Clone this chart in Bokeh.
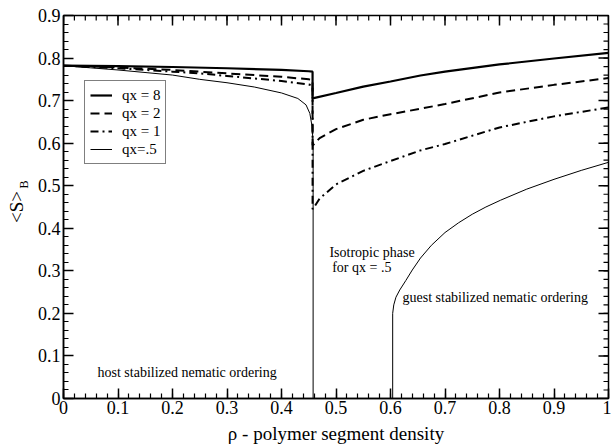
import math
from bokeh.plotting import figure
from bokeh.models import LinearAxis, Legend, LegendItem, Label, FixedTicker
from bokeh.embed import file_html
from bokeh.resources import INLINE

# ---- data ----
x_qx8 = [0.0, 0.1, 0.2, 0.3, 0.4, 0.45, 0.457, 0.457, 0.459, 0.5, 0.55, 0.6, 0.655, 0.7, 0.8, 0.9, 1.0]
y_qx8 = [0.782, 0.781, 0.779, 0.776, 0.772, 0.769, 0.768, 0.705, 0.706, 0.718, 0.733, 0.745, 0.759, 0.768, 0.785, 0.799, 0.812]

x_qx2 = [0.0, 0.1, 0.2, 0.25, 0.3, 0.4, 0.45, 0.457, 0.457, 0.459, 0.47, 0.5, 0.55, 0.6, 0.655, 0.7, 0.8, 0.9, 1.0]
y_qx2 = [0.782, 0.778, 0.772, 0.768, 0.764, 0.756, 0.750, 0.748, 0.595, 0.597, 0.612, 0.633, 0.655, 0.668, 0.681, 0.692, 0.719, 0.737, 0.753]

x_qx1 = [0.0, 0.1, 0.2, 0.25, 0.3, 0.4, 0.45, 0.457, 0.457, 0.459, 0.47, 0.5, 0.55, 0.6, 0.655, 0.7, 0.8, 0.9, 1.0]
y_qx1 = [0.782, 0.776, 0.768, 0.764, 0.758, 0.746, 0.738, 0.735, 0.445, 0.448, 0.470, 0.503, 0.535, 0.558, 0.583, 0.598, 0.637, 0.663, 0.684]

x_qx05 = [0.0, 0.1, 0.2, 0.25, 0.3, 0.35, 0.4, 0.43, 0.445, 0.452, 0.456, 0.458, 0.458, 0.604, 0.604,
          0.606, 0.61, 0.617, 0.628, 0.64, 0.655, 0.675, 0.7, 0.725, 0.75, 0.775, 0.802, 0.85, 0.9, 0.95, 1.0]
y_qx05 = [0.782, 0.772, 0.760, 0.750, 0.742, 0.732, 0.718, 0.705, 0.690, 0.670, 0.640, 0.600, 0.0, 0.0, 0.200,
          0.220, 0.238, 0.255, 0.277, 0.302, 0.330, 0.360, 0.390, 0.413, 0.433, 0.450, 0.466, 0.492, 0.515, 0.536, 0.555]

series_labels = ["qx = 8", "qx = 2", "qx = 1", "qx=.5"]

x_ticks = [0, 0.1, 0.2, 0.3, 0.4, 0.5, 0.6, 0.7, 0.8, 0.9, 1]
x_tick_labels = ["0", "0.1", "0.2", "0.3", "0.4", "0.5", "0.6", "0.7", "0.8", "0.9", "1"]
y_ticks = [0, 0.1, 0.2, 0.3, 0.4, 0.5, 0.6, 0.7, 0.8, 0.9]
y_tick_labels = ["0", "0.1", "0.2", "0.3", "0.4", "0.5", "0.6", "0.7", "0.8", "0.9"]
x_minor = [i * 0.02 for i in range(51)]
y_minor = [i * 0.02 for i in range(46)]

X_MIN, X_MAX, Y_MIN, Y_MAX = 0, 1, 0, 0.9
FONT = "Liberation Serif"

p = figure(width=611, height=448, x_range=(X_MIN, X_MAX), y_range=(Y_MIN, Y_MAX),
           output_backend="svg", toolbar_location=None,
           min_border_left=63, min_border_right=3, min_border_top=15, min_border_bottom=50)
p.xgrid.visible = False
p.ygrid.visible = False
p.outline_line_color = "black"
p.outline_line_width = 1.5
p.background_fill_color = "white"
p.border_fill_color = "white"


def style_axis(ax, ticks, minor, labels):
    ax.ticker = FixedTicker(ticks=ticks, minor_ticks=minor)
    ax.major_label_overrides = {t: l for t, l in zip(ticks, labels)}
    ax.axis_line_color = "black"
    ax.axis_line_width = 1.5
    ax.major_tick_in = 10
    ax.major_tick_out = 0
    ax.minor_tick_in = 5
    ax.minor_tick_out = 0
    ax.major_tick_line_width = 1.5
    ax.minor_tick_line_width = 1.2
    ax.major_tick_line_color = "black"
    ax.minor_tick_line_color = "black"
    ax.major_label_text_font = FONT
    ax.major_label_text_color = "black"
    ax.major_label_text_font_size = "18px"
    ax.axis_label_text_color = "black"
    ax.axis_label_text_font = FONT
    ax.axis_label_text_font_style = "normal"
    ax.axis_label_text_font_size = "19px"


xa = p.xaxis[0]
ya = p.yaxis[0]
style_axis(xa, x_ticks, x_minor, x_tick_labels)
style_axis(ya, y_ticks, y_minor, y_tick_labels)
xa.major_label_standoff = 2
ya.major_label_standoff = 3
xa.axis_label = "ρ - polymer segment density"
xa.axis_label_standoff = 6
ya.axis_label = "<S>"
ya.axis_label_standoff = 8

# subscript "B" of <S>_B: a label-only axis, pulled in next to "<S>" and raised with no-break spaces
axB = LinearAxis(ticker=FixedTicker(ticks=[], minor_ticks=[]),
                 axis_label="\u00a0" * 15 + "B", axis_label_standoff=-28, major_label_standoff=0,
                 axis_line_color=None, major_tick_line_color=None, minor_tick_line_color=None,
                 axis_label_text_font=FONT, axis_label_text_font_size="12px",
                 axis_label_text_font_style="normal", axis_label_text_color="black")
p.add_layout(axB, "left")

# mirrored inward ticks on top and right edges
p.ray(x=x_ticks, y=[Y_MAX] * len(x_ticks), length=10, length_units="screen",
      angle=-math.pi / 2, line_color="black", line_width=1.5)
p.ray(x=x_minor, y=[Y_MAX] * len(x_minor), length=5, length_units="screen",
      angle=-math.pi / 2, line_color="black", line_width=1.2)
p.ray(x=[X_MAX] * len(y_ticks), y=y_ticks, length=10, length_units="screen",
      angle=math.pi, line_color="black", line_width=1.5)
p.ray(x=[X_MAX] * len(y_minor), y=y_minor, length=5, length_units="screen",
      angle=math.pi, line_color="black", line_width=1.2)

r8 = p.line(x_qx8, y_qx8, line_color="black", line_width=2.2)
r2 = p.line(x_qx2, y_qx2, line_color="black", line_width=2, line_dash="9 5")
r1 = p.line(x_qx1, y_qx1, line_color="black", line_width=2, line_dash="8 4 2 4")
r05 = p.line(x_qx05, y_qx05, line_color="black", line_width=1)

legend = Legend(items=[LegendItem(label=series_labels[i], renderers=[r])
                       for i, r in enumerate([r8, r2, r1, r05])],
                location=(21, 234))
legend.label_text_font = FONT
legend.label_text_font_size = "15px"
legend.label_text_color = "black"
legend.glyph_width = 22
legend.glyph_height = 18
legend.label_height = 18
legend.label_standoff = 10
legend.spacing = 0
legend.padding = 5
legend.margin = 0
legend.border_line_color = "black"
legend.border_line_width = 1
legend.background_fill_alpha = 1
p.add_layout(legend, "center")

notes = [
    ("host stabilized nematic ordering", 0.0624, 0.061),
    ("Isotropic phase", 0.488, 0.343),
    ("for qx = .5", 0.493, 0.308),
    ("guest stabilized nematic ordering", 0.622, 0.237),
]
for txt, nx, ny in notes:
    p.add_layout(Label(x=nx, y=ny, text=txt, text_font=FONT, text_font_size="14px",
                       text_align="left", text_baseline="middle", text_color="black"))

open("out.html", "w").write(file_html(p, INLINE))
